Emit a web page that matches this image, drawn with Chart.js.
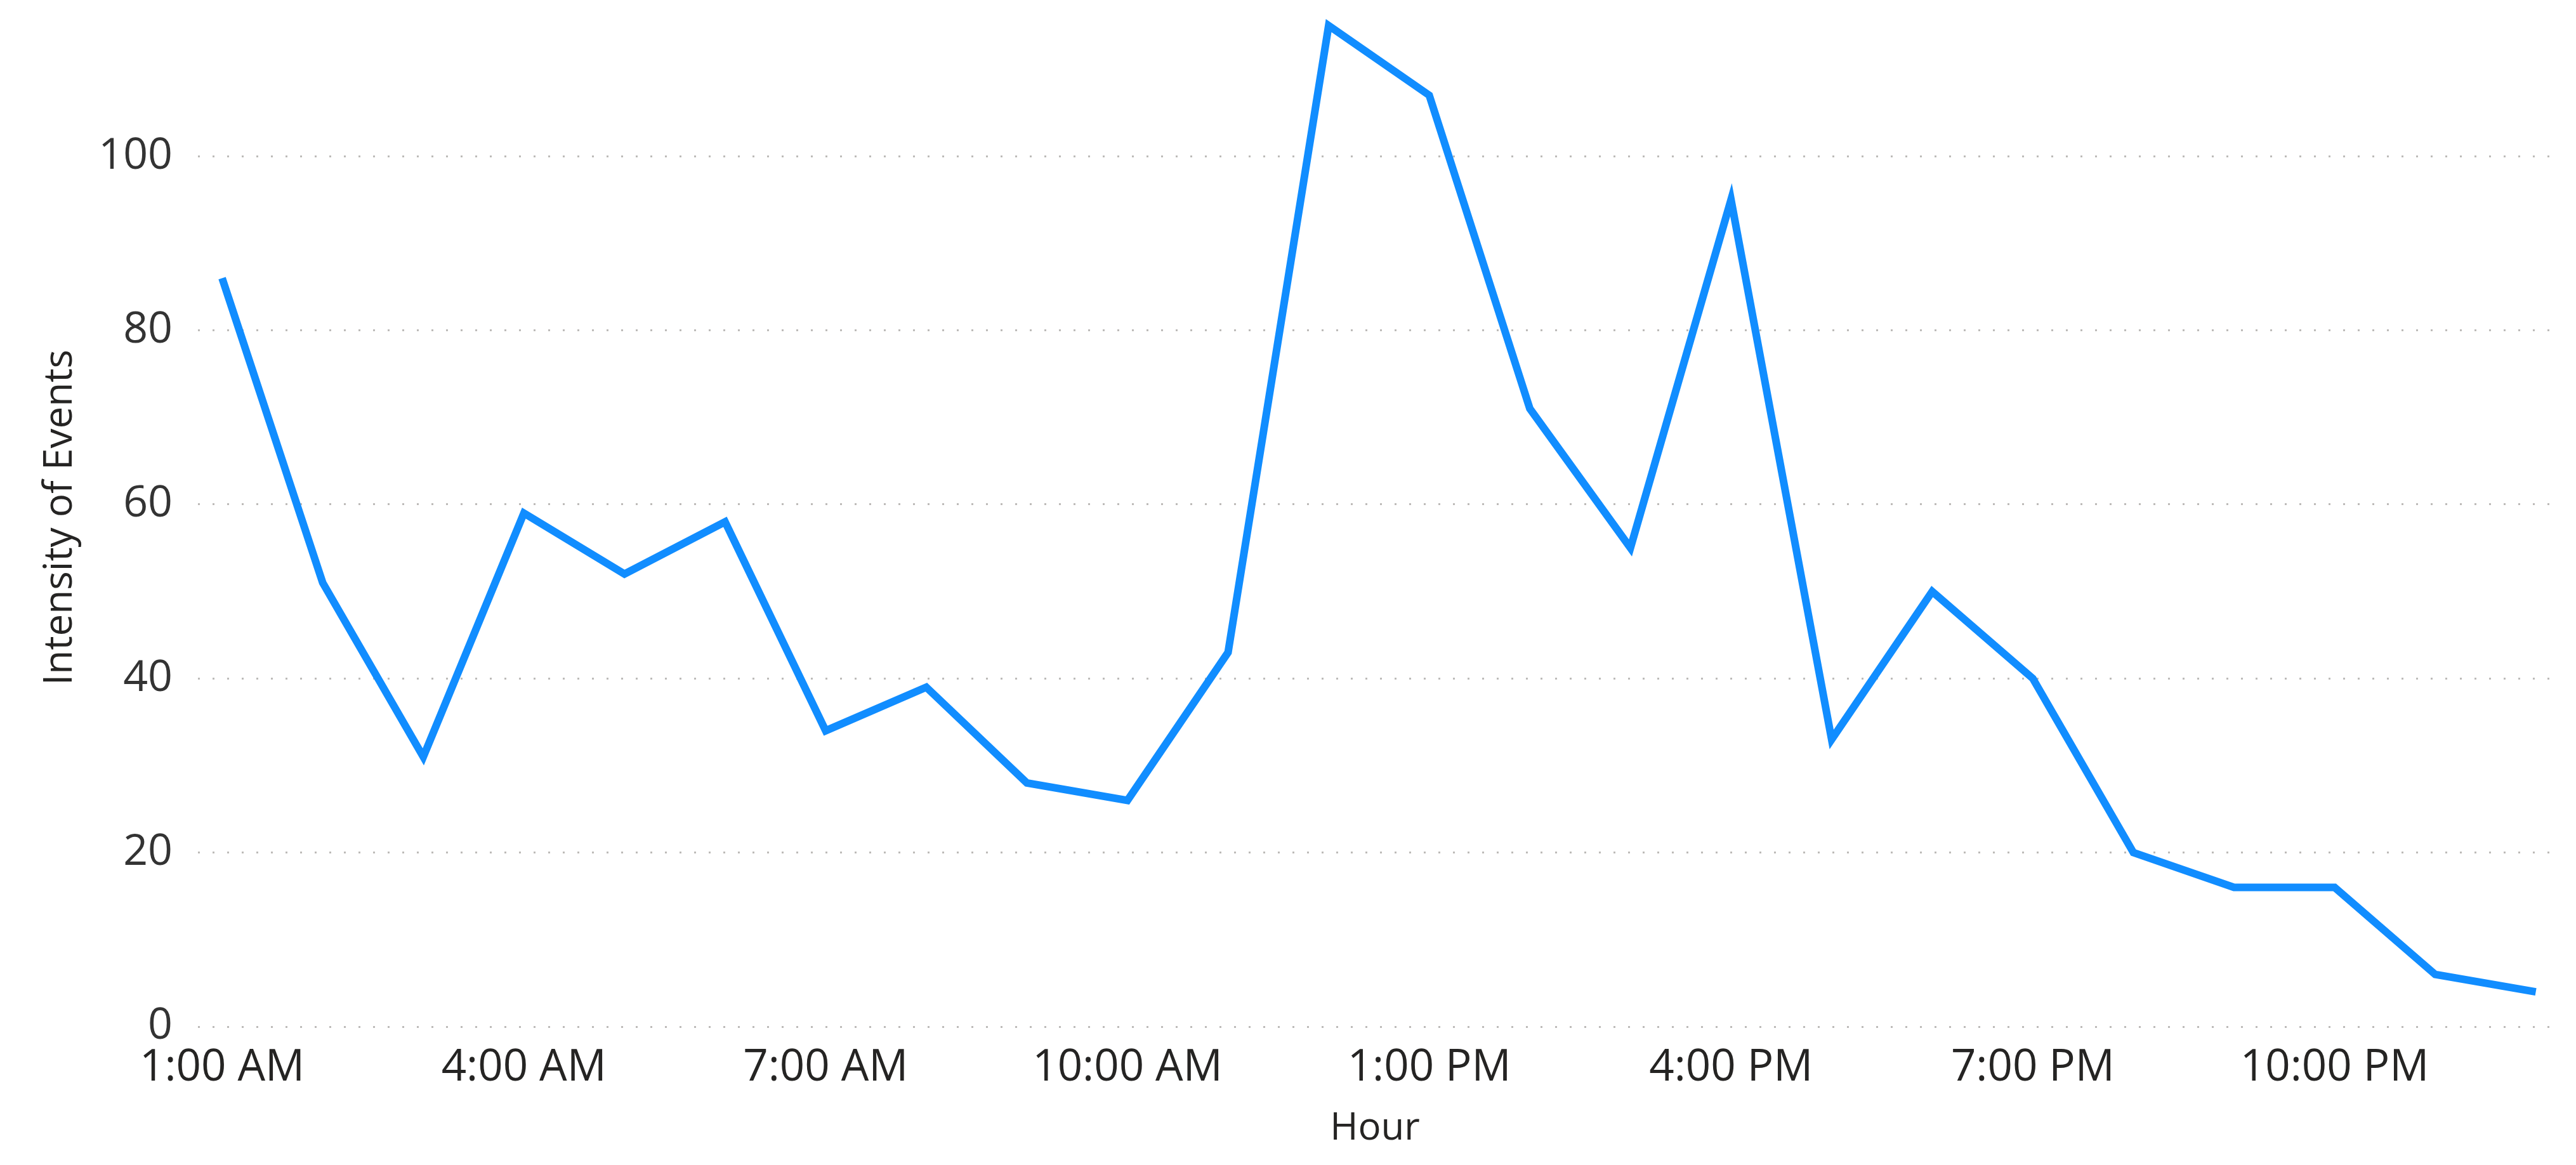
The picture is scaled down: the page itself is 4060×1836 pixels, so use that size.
<!DOCTYPE html>
<html>
<head>
<meta charset="utf-8">
<script src="https://cdn.jsdelivr.net/npm/chart.js@4/dist/chart.umd.min.js"></script>
<style>
  html, body { margin: 0; padding: 0; background: #ffffff; }
  #wrap { width: 4060px; height: 1836px; position: relative; }
</style>
</head>
<body>
<div id="wrap"><canvas id="c" width="4060" height="1836"></canvas></div>
<script>
// ---- Data ----
const hours = ['1:00 AM','2:00 AM','3:00 AM','4:00 AM','5:00 AM','6:00 AM','7:00 AM','8:00 AM','9:00 AM','10:00 AM','11:00 AM','12:00 PM',
               '1:00 PM','2:00 PM','3:00 PM','4:00 PM','5:00 PM','6:00 PM','7:00 PM','8:00 PM','9:00 PM','10:00 PM','11:00 PM','12:00 AM'];
const intensity = [86, 51, 31, 59, 52, 58, 34, 39, 28, 26, 43, 115, 107, 71, 55, 95, 33, 50, 40, 20, 16, 16, 6, 4];
const xTickLabels = ['1:00 AM','4:00 AM','7:00 AM','10:00 AM','1:00 PM','4:00 PM','7:00 PM','10:00 PM'];
const yTickValues = [0, 20, 40, 60, 80, 100];
const xTitle = 'Hour';
const yTitle = 'Intensity of Events';

const points = intensity.map((v, i) => ({ x: i + 1, y: v }));
const xTickPositions = xTickLabels.map(l => hours.indexOf(l) + 1);

const FONT = '"Open Sans", "Noto Sans", sans-serif';

new Chart(document.getElementById('c'), {
  type: 'line',
  data: {
    datasets: [{
      label: yTitle,
      data: points,
      borderColor: '#118DFF',
      backgroundColor: '#118DFF',
      borderWidth: 12,
      pointRadius: 0,
      tension: 0,
      borderJoinStyle: 'miter',
      borderCapStyle: 'butt'
    }]
  },
  options: {
    responsive: false,
    animation: false,
    events: [],
    layout: { padding: { left: 0, right: 38, top: 13, bottom: 0 } },
    plugins: { legend: { display: false }, tooltip: { enabled: false } },
    scales: {
      x: {
        type: 'linear',
        min: 0.76,
        max: 24.16,
        afterBuildTicks: (scale) => { scale.ticks = xTickPositions.map(v => ({ value: v })); },
        afterFit: (scale) => {
          scale.height = 218;
          scale.paddingLeft = 0; scale.paddingRight = 0;
          scale.paddingTop = 0; scale.paddingBottom = 0;
        },
        grid: { display: false, drawTicks: false },
        border: { display: false },
        ticks: {
          autoSkip: false,
          maxRotation: 0,
          padding: 24,
          color: '#252423',
          font: { family: FONT, size: 69 },
          callback: (v) => hours[v - 1]
        },
        title: {
          display: true,
          text: xTitle,
          color: '#252423',
          font: { family: FONT, size: 60 },
          padding: { top: 8, bottom: 21 }
        }
      },
      y: {
        min: 0,
        max: 117,
        afterBuildTicks: (scale) => { scale.ticks = yTickValues.map(v => ({ value: v })); },
        afterFit: (scale) => {
          scale.width = 312;
          scale.paddingTop = 0; scale.paddingBottom = 0;
          scale.paddingLeft = 0; scale.paddingRight = 0;
        },
        grid: {
          color: '#BDBBB9',
          lineWidth: 3,
          drawTicks: false
        },
        border: { display: false, dash: [3, 20] },
        ticks: {
          padding: 40,
          color: '#333333',
          font: { family: FONT, size: 68 }
        },
        title: {
          display: true,
          text: yTitle,
          color: '#252423',
          font: { family: FONT, size: 62 },
          padding: { top: 58, bottom: 0 }
        }
      }
    }
  }
});
</script>
</body>
</html>
